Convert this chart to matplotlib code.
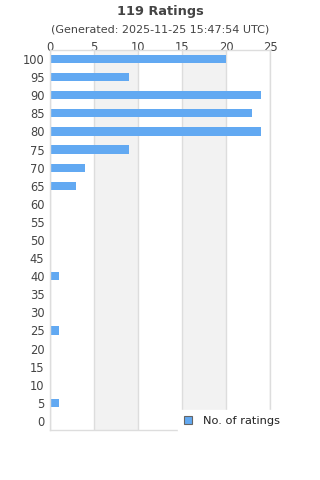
import matplotlib
matplotlib.use("Agg")
from matplotlib import pyplot as plt
from matplotlib.patches import Patch

ratings = [100, 95, 90, 85, 80, 75, 70, 65, 60, 55, 50, 45, 40, 35, 30, 25, 20, 15, 10, 5, 0]
counts = [20, 9, 24, 23, 24, 9, 4, 3, 0, 0, 0, 0, 1, 0, 0, 1, 0, 0, 0, 1, 0]
x_ticks = [0, 5, 10, 15, 20, 25]

bar_color = '#62a9f2'
text_color = '#444444'
grid_color = '#dddddd'

fig = plt.figure(figsize=(3.2, 4.8), dpi=100)
ax = fig.add_axes([50 / 320, 1 - 430 / 480, 220 / 320, 380 / 480])

pos = list(range(len(ratings)))[::-1]
# alternating bands
for i in range(len(x_ticks) - 1):
    if i % 2 == 1:
        ax.axvspan(x_ticks[i], x_ticks[i + 1], color='#f2f2f2', zorder=0, lw=0)
for t in x_ticks:
    ax.axvline(t, color=grid_color, lw=1, zorder=1)

ax.barh(pos, counts, height=0.45, color=bar_color, zorder=2)

ax.set_xlim(0, 25)
ax.set_ylim(-0.5, len(ratings) - 0.5)
ax.set_yticks(pos)
ax.set_yticklabels([str(r) for r in ratings])
ax.set_xticks(x_ticks)
ax.xaxis.tick_top()
ax.tick_params(axis='both', length=0, labelsize=8.3, colors=text_color, pad=4)
ax.tick_params(axis='x', pad=-3)
for s in ax.spines.values():
    s.set_color(grid_color)
    s.set_linewidth(1)

fig.text(0.5, 1 - 11 / 480, '119 Ratings', ha='center', va='center',
         fontsize=9.3, fontweight='bold', color=text_color)
fig.text(0.5, 1 - 30 / 480, '(Generated: 2025-11-25 15:47:54 UTC)', ha='center', va='center',
         fontsize=8, color=text_color)

handle = Patch(facecolor=bar_color, edgecolor='#666666', linewidth=0.8)
leg = fig.legend([handle], ['No. of ratings'], loc='upper left',
                 bbox_to_anchor=(178 / 320, 1 - 410 / 480), frameon=True, fontsize=8.2,
                 handlelength=0.7, handleheight=0.7, borderpad=0.5,
                 handletextpad=1.0, borderaxespad=0)
leg.get_frame().set_edgecolor('white')
leg.get_frame().set_facecolor('white')
leg.get_frame().set_alpha(1)
leg.get_frame().set_boxstyle('square', pad=0)
for t in leg.get_texts():
    t.set_color('#222222')

fig.savefig('out.png', dpi=100)
